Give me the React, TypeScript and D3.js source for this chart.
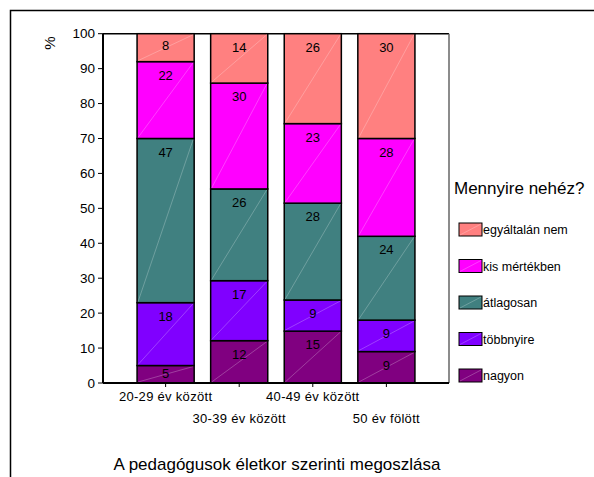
// Stacked 100% column chart - pedagógusok életkor szerinti megoszlása

import { useEffect, useRef } from "react";
import * as d3 from "d3";

const categories = ["20-29 év között", "30-39 év között", "40-49 év között", "50 év fölött"];

// series from bottom to top
const seriesNames = ["nagyon", "többnyire", "átlagosan", "kis mértékben", "egyáltalán nem"];
const nagyon = [5, 12, 15, 9];
const tobbnyire = [18, 17, 9, 9];
const atlagosan = [47, 26, 28, 24];
const kisMertekben = [22, 30, 23, 28];
const egyaltalanNem = [8, 14, 26, 30];

const colors = ["#800080", "#8000ff", "#408080", "#ff00ff", "#ff8080"];
const yTicks = [0, 10, 20, 30, 40, 50, 60, 70, 80, 90, 100];

const FONT = "Arial, 'Liberation Sans', sans-serif";

export default function App() {
  const svgRef = useRef<SVGSVGElement>(null);

  useEffect(() => {
    if (!svgRef.current) return;
    const svg = d3.select(svgRef.current);
    svg.selectAll("*").remove();

    const left = 103;
    const right = 449;
    const top = 33.7;
    const bottom = 383;

    const values = [nagyon, tobbnyire, atlagosan, kisMertekben, egyaltalanNem];
    const rows = categories.map((c, i) => {
      const r: any = { cat: c };
      seriesNames.forEach((s, j) => (r[s] = values[j][i]));
      return r;
    });

    const stacked = d3.stack<any>().keys(seriesNames).offset(d3.stackOffsetExpand)(rows);

    const x = d3
      .scaleBand<string>()
      .domain(categories)
      .range([left, right])
      .paddingInner(0.224)
      .paddingOuter(0.463);
    const y = d3.scaleLinear().domain([0, 100]).range([bottom, top]);

    // outer frame (cut off at right / bottom)
    svg.append("rect")
      .attr("x", 10.5)
      .attr("y", 10.5)
      .attr("width", 700)
      .attr("height", 600)
      .attr("fill", "white")
      .attr("stroke", "#000")
      .attr("stroke-width", 1.5);

    // plot area frame
    svg.append("line")
      .attr("x1", left).attr("x2", right)
      .attr("y1", top).attr("y2", top)
      .attr("stroke", "#000").attr("stroke-width", 1.5);
    svg.append("line")
      .attr("x1", right).attr("x2", right)
      .attr("y1", top).attr("y2", bottom)
      .attr("stroke", "#666").attr("stroke-width", 1.5);

    // bars
    stacked.forEach((layer, j) => {
      const g = svg.append("g");
      layer.forEach((d, i) => {
        const bx = x(categories[i])!;
        const bw = x.bandwidth();
        const y0 = y(d[0] * 100);
        const y1 = y(d[1] * 100);
        const h = y0 - y1;
        g.append("rect")
          .attr("x", bx)
          .attr("y", y1)
          .attr("width", bw)
          .attr("height", h)
          .attr("fill", colors[j])
          .attr("stroke", "#000")
          .attr("stroke-width", 1.5);
        // faint diagonal sheen
        g.append("line")
          .attr("x1", bx + 1).attr("y1", y0 - 1)
          .attr("x2", bx + bw - 1).attr("y2", y1 + 1)
          .attr("stroke", "#fff")
          .attr("stroke-opacity", 0.35)
          .attr("stroke-width", 0.7);
        g.append("text")
          .attr("x", bx + bw / 2)
          .attr("y", y1 + Math.min(13.5, h * 0.43))
          .attr("dy", "0.35em")
          .attr("text-anchor", "middle")
          .attr("font-family", FONT)
          .attr("font-size", 13)
          .attr("fill", "#000")
          .text(values[j][i]);
      });
    });

    // y axis
    const yAxis = svg.append("g");
    yAxis.append("line")
      .attr("x1", left).attr("x2", left)
      .attr("y1", top).attr("y2", bottom)
      .attr("stroke", "#000").attr("stroke-width", 2);
    yTicks.forEach((t) => {
      yAxis.append("line")
        .attr("x1", left - 5).attr("x2", left)
        .attr("y1", y(t)).attr("y2", y(t))
        .attr("stroke", "#000").attr("stroke-width", 1);
      yAxis.append("text")
        .attr("x", left - 8)
        .attr("y", y(t))
        .attr("dy", "0.35em")
        .attr("text-anchor", "end")
        .attr("font-family", FONT)
        .attr("font-size", 13.5)
        .text(t);
    });
    svg.append("text")
      .attr("transform", `translate(50, 43) rotate(-90)`)
      .attr("text-anchor", "middle")
      .attr("dy", "0.35em")
      .attr("font-family", FONT)
      .attr("font-size", 15)
      .text("%");

    // x axis
    svg.append("line")
      .attr("x1", left).attr("x2", right)
      .attr("y1", bottom).attr("y2", bottom)
      .attr("stroke", "#000").attr("stroke-width", 2);
    categories.forEach((c, i) => {
      const cx = x(c)! + x.bandwidth() / 2;
      svg.append("line")
        .attr("x1", cx).attr("x2", cx)
        .attr("y1", bottom).attr("y2", bottom + 4)
        .attr("stroke", "#000");
      svg.append("text")
        .attr("x", cx)
        .attr("y", i % 2 === 0 ? 401 : 423)
        .attr("text-anchor", "middle")
        .attr("font-family", FONT)
        .attr("font-size", 13)
        .attr("letter-spacing", 0.3)
        .text(c);
    });

    // title
    svg.append("text")
      .attr("x", 277)
      .attr("y", 470)
      .attr("text-anchor", "middle")
      .attr("font-family", FONT)
      .attr("font-size", 17)
      .text("A pedagógusok életkor szerinti megoszlása");

    // legend
    const lg = svg.append("g");
    lg.append("text")
      .attr("x", 454)
      .attr("y", 188)
      .attr("dy", "0.35em")
      .attr("font-family", FONT)
      .attr("font-size", 17)
      .text("Mennyire nehéz?");
    const legendOrder = [4, 3, 2, 1, 0];
    legendOrder.forEach((j, k) => {
      const cy = 230 + k * 36.5;
      lg.append("rect")
        .attr("x", 459)
        .attr("y", cy - 7)
        .attr("width", 23)
        .attr("height", 13)
        .attr("fill", colors[j])
        .attr("stroke", "#000")
        .attr("stroke-width", 1);
      lg.append("line")
        .attr("x1", 460).attr("y1", cy + 5)
        .attr("x2", 481).attr("y2", cy - 6)
        .attr("stroke", "#fff")
        .attr("stroke-opacity", 0.35)
        .attr("stroke-width", 0.7);
      lg.append("text")
        .attr("x", 483)
        .attr("y", cy)
        .attr("dy", "0.35em")
        .attr("font-family", FONT)
        .attr("font-size", 12.5)
        .text(seriesNames[j]);
    });
  }, []);

  return (
    <svg
      ref={svgRef}
      width={594}
      height={477}
      style={{ position: "absolute", left: 0, top: 0, background: "white" }}
    />
  );
}
